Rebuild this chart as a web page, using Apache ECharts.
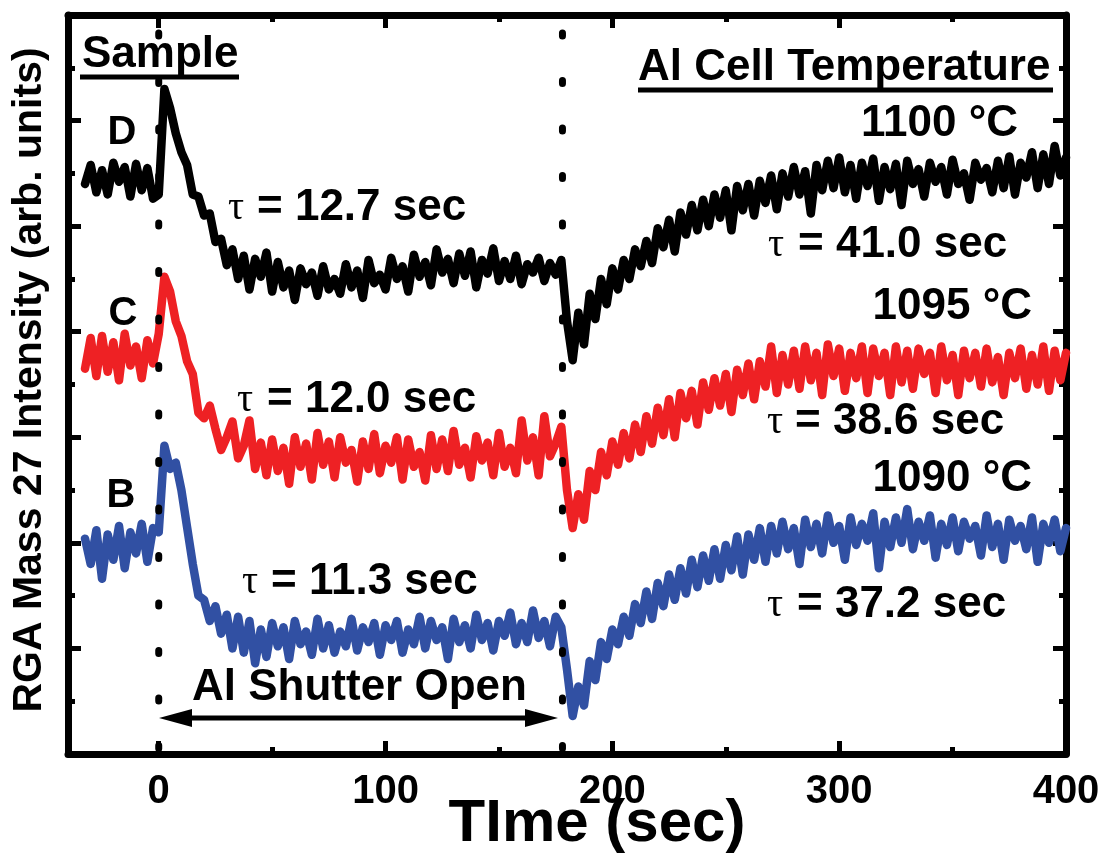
<!DOCTYPE html>
<html><head><meta charset="utf-8">
<script src="https://cdn.jsdelivr.net/npm/echarts@6/dist/echarts.min.js"></script>
<style>html,body{margin:0;padding:0;background:#fff}#c{width:1107px;height:858px}</style>
</head><body><div id="c"></div>
<script>
// sampling grid (sec)
const tStart = -32.5, tStep = 2.5;
// Sample D (1100 C) RGA mass 27 signal, arb. units
const sampleD = [
 54.0, 55.8, 53.2, 55.3, 53.0, 56.0, 54.2, 55.6, 52.8, 55.9,
 53.4, 55.5, 52.6, 53.0, 63.0, 61.2, 58.8, 57.0, 55.8, 53.0,
 52.8, 51.0, 51.2, 48.5, 48.8, 46.3, 47.8, 45.0, 47.2, 44.0,
 46.9, 45.2, 47.5, 43.8, 46.6, 44.2, 45.8, 43.0, 46.0, 44.5,
 45.6, 43.4, 46.2, 44.0, 45.0, 43.6, 46.4, 44.2, 45.8, 43.2,
 46.8, 44.6, 45.4, 44.0, 47.0, 45.0, 46.2, 43.8, 47.3, 45.2,
 46.6, 44.4, 47.8, 45.6, 46.9, 44.6, 47.4, 45.3, 47.6, 44.2,
 46.8, 45.5, 47.9, 44.8, 46.7, 45.0, 47.2, 44.5, 46.4, 45.6,
 47.0, 44.8, 46.5, 45.4, 46.8, 41.0, 37.3, 41.8, 38.8, 43.6,
 41.2, 45.0, 42.6, 46.0, 44.0, 46.8, 45.0, 47.8, 46.2, 48.6,
 46.5, 49.8, 48.0, 50.6, 47.6, 51.3, 49.2, 52.0, 49.6, 52.5,
 50.0, 53.0, 50.8, 53.4, 49.6, 53.8, 51.5, 54.0, 51.0, 54.3,
 52.2, 54.8, 51.6, 55.0, 52.8, 55.6, 53.0, 55.2, 51.2, 55.8,
 53.4, 56.2, 53.6, 56.5, 53.2, 55.8, 52.6, 56.0, 53.8, 56.4,
 52.4, 55.6, 53.5, 55.9, 52.0, 56.2, 54.0, 55.4, 52.8, 56.0,
 54.2, 55.6, 53.0, 56.3, 54.0, 55.0, 52.5, 56.0, 54.4, 55.5,
 53.2, 56.2, 53.6, 56.6, 53.0, 56.0, 54.6, 57.0, 53.6, 56.8,
 54.0, 57.6, 54.8, 56.5
];
// Sample C (1095 C)
const sampleC = [
 36.5, 39.4, 35.8, 39.6, 36.2, 39.0, 35.4, 39.8, 36.8, 38.6,
 35.6, 39.2, 37.0, 39.8, 45.2, 43.8, 41.0, 39.6, 37.2, 36.0,
 32.3, 31.8, 33.0, 30.8, 28.8, 30.0, 31.5, 28.0, 29.2, 31.6,
 27.0, 29.5, 26.4, 29.8, 26.8, 29.0, 25.6, 30.0, 27.2, 29.4,
 26.0, 30.4, 27.4, 29.6, 26.2, 30.0, 27.6, 28.8, 25.8, 29.6,
 27.0, 30.3, 26.6, 29.2, 27.6, 30.0, 26.0, 29.8, 27.2, 28.6,
 25.9, 30.2, 27.0, 29.8, 26.8, 30.6, 27.4, 29.0, 26.2, 30.1,
 27.8, 29.5, 26.4, 30.4, 27.2, 29.0, 26.6, 31.6, 27.8, 30.0,
 26.4, 32.0, 28.2, 29.4, 31.0, 25.0, 21.4, 24.6, 22.2, 26.8,
 25.0, 28.6, 26.4, 29.6, 27.4, 30.4, 28.0, 31.2, 28.6, 32.0,
 29.4, 32.8, 30.2, 33.6, 30.0, 34.2, 31.8, 34.4, 31.2, 35.2,
 32.6, 35.6, 33.0, 36.0, 32.4, 36.4, 34.0, 37.0, 33.6, 37.2,
 34.8, 38.6, 34.2, 37.8, 35.0, 38.2, 34.6, 38.6, 35.4, 38.0,
 34.0, 38.8, 35.8, 38.4, 34.4, 38.0, 35.6, 38.6, 34.2, 38.4,
 35.8, 38.0, 34.0, 38.6, 35.2, 38.2, 34.6, 38.4, 36.0, 38.0,
 34.2, 38.6, 35.4, 37.8, 34.0, 38.2, 35.6, 38.0, 34.8, 38.4,
 35.2, 37.6, 34.0, 38.0, 35.6, 38.4, 34.6, 37.8, 35.0, 38.6,
 34.4, 38.2, 35.4, 38.0
];
// Sample B (1090 C)
const sampleB = [
 20.4, 18.0, 21.2, 16.6, 20.8, 18.4, 21.6, 17.6, 21.0, 19.0,
 21.8, 18.2, 21.4, 21.0, 29.2, 27.0, 27.6, 25.0, 21.5, 18.0,
 15.0, 14.6, 12.6, 14.0, 11.4, 13.2, 10.0, 13.0, 9.6, 12.6,
 8.6, 11.8, 9.2, 12.4, 10.2, 12.0, 9.0, 12.6, 10.4, 11.6,
 9.4, 12.8, 10.0, 12.2, 9.6, 11.6, 10.2, 12.8, 9.8, 12.0,
 10.6, 12.4, 9.4, 12.2, 10.8, 12.6, 9.6, 11.8, 10.4, 13.0,
 10.0, 12.6, 10.8, 12.0, 9.0, 12.8, 10.6, 12.2, 10.0, 13.2,
 10.8, 12.4, 9.8, 12.6, 11.2, 13.4, 10.4, 12.4, 10.6, 13.6,
 11.0, 12.6, 10.2, 13.0, 12.0, 8.0, 3.6, 6.4, 4.6, 8.8,
 7.0, 10.6, 9.0, 11.8, 10.4, 13.0, 11.2, 14.2, 12.4, 15.4,
 12.8, 16.2, 14.0, 17.0, 14.6, 17.6, 15.2, 18.4, 15.8, 18.8,
 16.4, 19.4, 16.6, 19.8, 17.4, 20.6, 17.0, 20.8, 18.4, 21.4,
 18.2, 21.6, 19.0, 22.0, 19.4, 21.4, 18.0, 22.2, 19.6, 21.8,
 19.0, 22.6, 20.0, 21.6, 18.4, 22.4, 19.8, 21.8, 20.2, 22.8,
 17.6, 22.0, 19.6, 22.4, 20.0, 23.2, 19.4, 22.0, 20.2, 22.6,
 18.6, 21.8, 19.8, 22.4, 19.2, 22.0, 20.4, 21.6, 18.8, 22.6,
 19.6, 21.8, 18.4, 22.2, 20.2, 21.6, 19.4, 22.4, 18.2, 21.8,
 20.0, 22.2, 19.2, 21.4
];
const xMajorTicks = [0, 100, 200, 300, 400];
const xMinorTicks = [50, 150, 250, 350];
const shutterTimes = [0, 178];   // shutter open / close (sec)
const X_MIN = -40, X_MAX = 400, Y_MIN = 0, Y_MAX = 70;

function toPairs(arr) { return arr.map((v, i) => [tStart + i * tStep, v]); }

const SANS = '"Liberation Sans", Arial, Helvetica, sans-serif';
const SERIF = '"Liberation Serif", "Times New Roman", serif';
const BLACK = '#000';

function xAx(pos, ticks, len, showLine, showLabel) {
  return {
    type: 'value', min: X_MIN, max: X_MAX, position: pos,
    axisLine: { show: showLine, onZero: false, lineStyle: { color: BLACK, width: 7 } },
    axisTick: { show: true, inside: true, length: len, customValues: ticks, lineStyle: { color: BLACK, width: 5 } },
    axisLabel: showLabel ? { show: true, customValues: ticks, margin: 18, color: BLACK, fontSize: 40, fontWeight: 'bold', fontFamily: SANS } : { show: false },
    splitLine: { show: false }
  };
}
function yAx(pos) {
  return {
    type: 'value', min: Y_MIN, max: Y_MAX, interval: 10, position: pos,
    axisLine: { show: true, onZero: false, lineStyle: { color: BLACK, width: 7 } },
    axisTick: { show: true, inside: true, length: 13, lineStyle: { color: BLACK, width: 5 } },
    minorTick: { show: true, splitNumber: 2, length: 7, lineStyle: { color: BLACK, width: 5 } },
    axisLabel: { show: false }, splitLine: { show: false }, minorSplitLine: { show: false }
  };
}
function curve(name, arr, color) {
  return { type: 'line', name, data: toPairs(arr), showSymbol: false, symbol: 'none', z: 3,
    lineStyle: { color, width: 8.5, join: 'round', cap: 'round' }, silent: true };
}
function dotted(t) {
  return { type: 'line', data: [[t, Y_MIN], [t, Y_MAX]], symbol: 'none', z: 6, silent: true,
    lineStyle: { color: BLACK, width: 7, type: [3, 44.5], dashOffset: 42, cap: 'round' } };
}
function txt(text, x, y, size, align, font) {
  return { type: 'text', x, y, z: 10, silent: true, style: {
    text, font: (font === SERIF ? 'normal ' : 'bold ') + size + 'px ' + (font || SANS),
    fill: BLACK, align: align || 'left', verticalAlign: 'middle',
    textAlign: align || 'left', textVerticalAlign: 'middle' } };
}
function tau(xTau, xEq, y, val) {
  return [txt('\u03C4', xTau, y, 40, 'left', SERIF), txt('= ' + val + ' sec', xEq, y, 44, 'left')];
}
function hline(x1, x2, y, w) {
  return { type: 'line', z: 10, silent: true, shape: { x1, y1: y, x2, y2: y }, style: { stroke: BLACK, lineWidth: w } };
}

const graphics = [
  txt('Sample', 82, 55, 44, 'left'),
  hline(80, 239, 77, 5),
  txt('D', 122, 133, 40, 'center'),
  txt('C', 123, 314, 40, 'center'),
  txt('B', 121, 496, 40, 'center'),
  ...tau(228, 257, 208, '12.7'),
  ...tau(237, 267, 400, '12.0'),
  ...tau(242, 271, 582, '11.3'),
  txt('Al Cell Temperature', 638, 68, 44, 'left'),
  hline(638, 1053, 90, 5),
  txt('1100 \u00B0C', 1018, 124, 44, 'right'),
  txt('1095 \u00B0C', 1032, 307, 44, 'right'),
  txt('1090 \u00B0C', 1032, 479, 44, 'right'),
  ...tau(768, 798, 245, '41.0'),
  ...tau(767, 795, 422, '38.6'),
  ...tau(767, 797, 605, '37.2'),
  txt('Al Shutter Open', 192, 688, 44, 'left'),
  hline(185, 532, 718, 5),
  { type: 'polygon', z: 10, silent: true, shape: { points: [[159, 718], [192, 709], [192, 727]] }, style: { fill: BLACK } },
  { type: 'polygon', z: 10, silent: true, shape: { points: [[558, 718], [525, 709], [525, 727]] }, style: { fill: BLACK } },
  txt('TIme (sec)', 597, 824, 60, 'center'),
  Object.assign(txt('RGA Mass 27 Intensity (arb. units)', 30, 380, 41, 'center'), { rotation: Math.PI / 2 })
];

const chart = echarts.init(document.getElementById('c'), null, { renderer: 'canvas' });
chart.setOption({
  animation: false,
  backgroundColor: '#fff',
  grid: { left: 68, right: 41, top: 15, bottom: 104, containLabel: false },
  xAxis: [
    xAx('bottom', xMajorTicks, 13, true, true),
    xAx('bottom', xMinorTicks, 7, false, false),
    xAx('top', xMajorTicks, 13, true, false),
    xAx('top', xMinorTicks, 7, false, false)
  ],
  yAxis: [yAx('left'), yAx('right')],
  series: [
    curve('B', sampleB, '#3150a3'),
    curve('C', sampleC, '#ee2124'),
    curve('D', sampleD, '#000000'),
    ...shutterTimes.map(dotted)
  ],
  graphic: graphics
});
</script>
</body></html>
